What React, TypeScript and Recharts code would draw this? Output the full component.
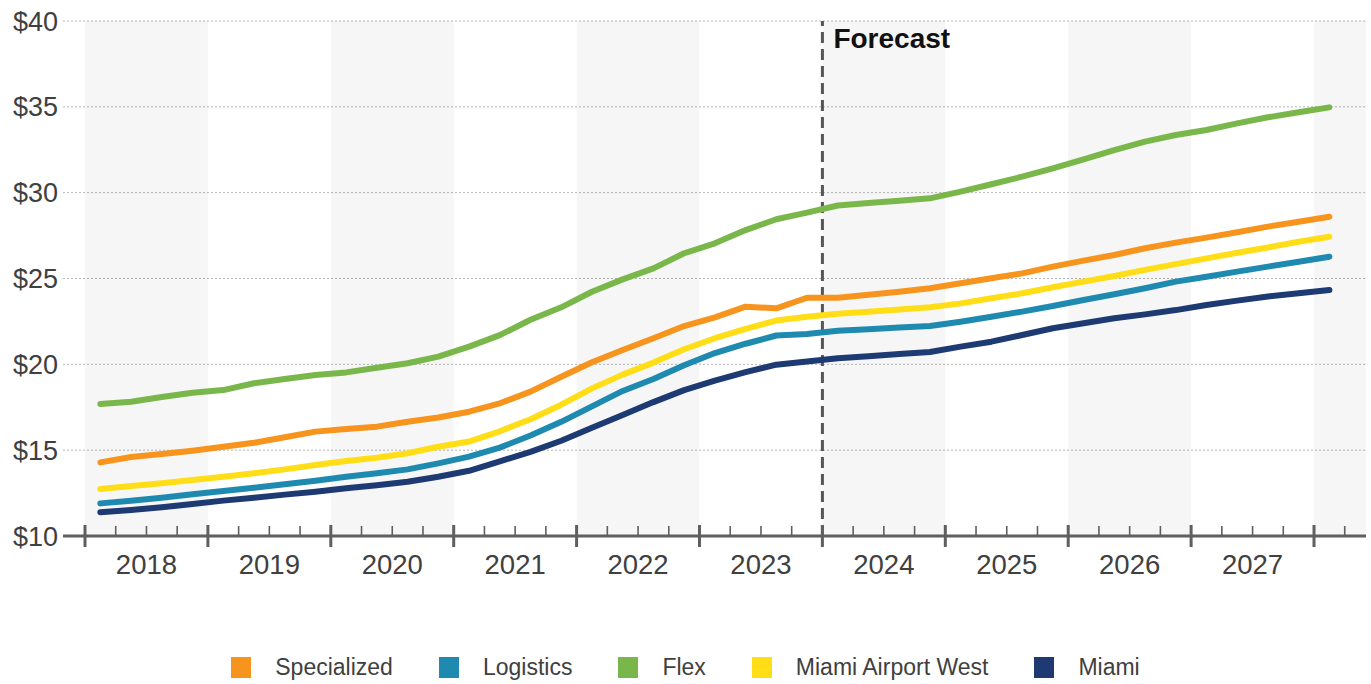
import React from "react";
import {
  LineChart,
  Line,
  XAxis,
  YAxis,
  CartesianGrid,
  ReferenceArea,
  ReferenceLine,
} from "recharts";

// ---- categories ----
const years = [2018, 2019, 2020, 2021, 2022, 2023, 2024, 2025, 2026, 2027];
const quarterLabels = [
  ...years.flatMap((y) => [1, 2, 3, 4].map((q) => `${y} Q${q}`)),
  "2028 Q1",
];

// ---- series values (asking rent, $/SF) ----
const specialized = [
  14.29, 14.6, 14.78, 14.97, 15.2, 15.43, 15.75, 16.08, 16.23, 16.37, 16.66, 16.9,
  17.24, 17.73, 18.41, 19.28, 20.12, 20.83, 21.52, 22.23, 22.74, 23.36, 23.26, 23.88,
  23.88, 24.05, 24.23, 24.43, 24.72, 25.01, 25.3, 25.69, 26.04, 26.37, 26.76, 27.09,
  27.38, 27.69, 28.02, 28.31, 28.6,
];
const logistics = [
  11.9, 12.06, 12.23, 12.43, 12.62, 12.81, 13.01, 13.22, 13.45, 13.65, 13.88, 14.23,
  14.62, 15.15, 15.85, 16.65, 17.55, 18.45, 19.15, 19.95, 20.66, 21.2, 21.68, 21.77,
  21.95, 22.05, 22.15, 22.23, 22.48, 22.77, 23.07, 23.4, 23.75, 24.08, 24.43, 24.82,
  25.1, 25.4, 25.69, 25.98, 26.27,
];
const flex = [
  17.69, 17.82, 18.1, 18.35, 18.5, 18.9, 19.15, 19.38, 19.53, 19.8, 20.06, 20.45,
  21.03, 21.7, 22.6, 23.32, 24.23, 24.95, 25.59, 26.47, 27.05, 27.82, 28.45, 28.84,
  29.25, 29.4, 29.53, 29.67, 30.06, 30.49, 30.93, 31.42, 31.94, 32.48, 32.97, 33.36,
  33.65, 34.04, 34.39, 34.68, 34.97,
];
const miamiAirportWest = [
  12.74, 12.91, 13.07, 13.26, 13.45, 13.65, 13.88, 14.14, 14.37, 14.56, 14.82, 15.2,
  15.5, 16.1, 16.8, 17.65, 18.6, 19.4, 20.1, 20.88, 21.52, 22.07, 22.55, 22.77,
  22.95, 23.07, 23.2, 23.32, 23.55, 23.85, 24.14, 24.49, 24.82, 25.15, 25.5, 25.84,
  26.17, 26.5, 26.81, 27.14, 27.43,
];
const miami = [
  11.38, 11.51, 11.67, 11.86, 12.06, 12.23, 12.41, 12.58, 12.78, 12.95, 13.16, 13.45,
  13.8, 14.35, 14.9, 15.55, 16.3, 17.05, 17.8, 18.5, 19.05, 19.55, 19.98, 20.17,
  20.35, 20.47, 20.6, 20.72, 21.03, 21.32, 21.71, 22.1, 22.39, 22.68, 22.91, 23.16,
  23.46, 23.71, 23.95, 24.14, 24.33,
];

// ---- tick labels ----
const yTicks = [10, 15, 20, 25, 30, 35, 40];
const shadedYears = [2018, 2020, 2022, 2024, 2026, 2028];
const forecastStart = 2024;
const forecastLabel = "Forecast";

const series = [
  { key: "Specialized", values: specialized, color: "#F7941D" },
  { key: "Logistics", values: logistics, color: "#1F8AAF" },
  { key: "Flex", values: flex, color: "#79B74B" },
  { key: "Miami Airport West", values: miamiAirportWest, color: "#FFDE17" },
  { key: "Miami", values: miami, color: "#1E3A72" },
];

const data = quarterLabels.map((label, i) => {
  const [y, q] = label.split(" Q").map(Number);
  const row: Record<string, number | string> = { label, t: y + (q - 0.5) / 4 };
  series.forEach((s) => {
    row[s.key] = s.values[i];
  });
  return row;
});

const X_MIN = 2017.821;
const X_MAX = 2028.423;
const xTicks: number[] = [];
[...years, 2028].forEach((y) => {
  [0, 0.25, 0.5, 0.75].forEach((f) => {
    if (y + f <= 2028.25) xTicks.push(y + f);
  });
});

const FONT = "'Liberation Sans', Arial, Helvetica, sans-serif";
const AXIS_COLOR = "#5f5f5f";
const TEXT_COLOR = "#404040";

const XTick = (props: any) => {
  const { x, y, payload } = props;
  const v: number = payload.value;
  const frac = v - Math.floor(v);
  const isYear = Math.abs(frac) < 1e-6;
  const isMid = Math.abs(frac - 0.5) < 1e-6;
  const year = Math.floor(v);
  return (
    <g>
      {isYear ? (
        <line x1={x} x2={x} y1={y - 11} y2={y + 11} stroke={AXIS_COLOR} strokeWidth={3} />
      ) : (
        <line x1={x} x2={x} y1={y - 10} y2={y} stroke={AXIS_COLOR} strokeWidth={1.6} />
      )}
      {isMid && years.includes(year) ? (
        <text
          x={x}
          y={y + 38}
          textAnchor="middle"
          fontSize={27.5}
          fontFamily={FONT}
          fill={TEXT_COLOR}
        >
          {year}
        </text>
      ) : null}
    </g>
  );
};

const ForecastLabel = (props: any) => {
  const vb = props.viewBox || {};
  return (
    <text
      x={(vb.x || 0) + 11}
      y={(vb.y || 0) + 27}
      fontSize={28}
      fontWeight="bold"
      fontFamily={FONT}
      fill="#111"
    >
      {forecastLabel}
    </text>
  );
};

export default function App() {
  return (
    <div
      style={{
        position: "absolute",
        left: 0,
        top: 0,
        width: 1371,
        height: 684,
        background: "#fff",
        fontFamily: FONT,
      }}
    >
      <LineChart
        width={1371}
        height={684}
        data={data}
        margin={{ top: 21, right: 5, left: 0, bottom: 88 }}
      >
        <CartesianGrid
          vertical={false}
          stroke="#b5b5b5"
          strokeDasharray="2 2"
          strokeWidth={1}
        />
        {shadedYears.map((y) => (
          <ReferenceArea
            key={y}
            x1={y}
            x2={Math.min(y + 1, X_MAX)}
            fill="#000"
            fillOpacity={0.035}
            stroke="none"
            ifOverflow="hidden"
          />
        ))}
        <XAxis
          dataKey="t"
          type="number"
          domain={[X_MIN, X_MAX]}
          allowDataOverflow
          ticks={xTicks}
          interval={0}
          tick={<XTick />}
          tickLine={false}
          tickSize={0}
          tickMargin={0}
          height={60}
          axisLine={{ stroke: AXIS_COLOR, strokeWidth: 3 }}
        />
        <YAxis
          type="number"
          domain={[10, 40]}
          ticks={yTicks}
          interval={0}
          width={63}
          axisLine={false}
          tickLine={false}
          tickSize={0}
          tickMargin={5}
          tickFormatter={(v: number) => `$${v}`}
          tick={{ fontSize: 27, fill: TEXT_COLOR, fontFamily: FONT }}
        />
        <ReferenceLine
          x={forecastStart}
          stroke="#555"
          strokeWidth={3}
          strokeDasharray="11 6"
          label={<ForecastLabel />}
        />
        {series.map((s) => (
          <Line
            key={s.key}
            dataKey={s.key}
            name={s.key}
            type="linear"
            stroke={s.color}
            strokeWidth={6}
            strokeLinecap="round"
            strokeLinejoin="round"
            dot={false}
            activeDot={false}
            isAnimationActive={false}
          />
        ))}
      </LineChart>
      <div
        style={{
          position: "absolute",
          left: 0,
          top: 655,
          width: 1371,
          display: "flex",
          justifyContent: "center",
          alignItems: "center",
          gap: 46,
        }}
      >
        {series.map((s) => (
          <div key={s.key} style={{ display: "flex", alignItems: "center" }}>
            <div style={{ width: 20, height: 21, background: s.color, marginRight: 24 }} />
            <span style={{ fontSize: 23, color: TEXT_COLOR, fontFamily: FONT, lineHeight: "24px" }}>
              {s.key}
            </span>
          </div>
        ))}
      </div>
    </div>
  );
}
